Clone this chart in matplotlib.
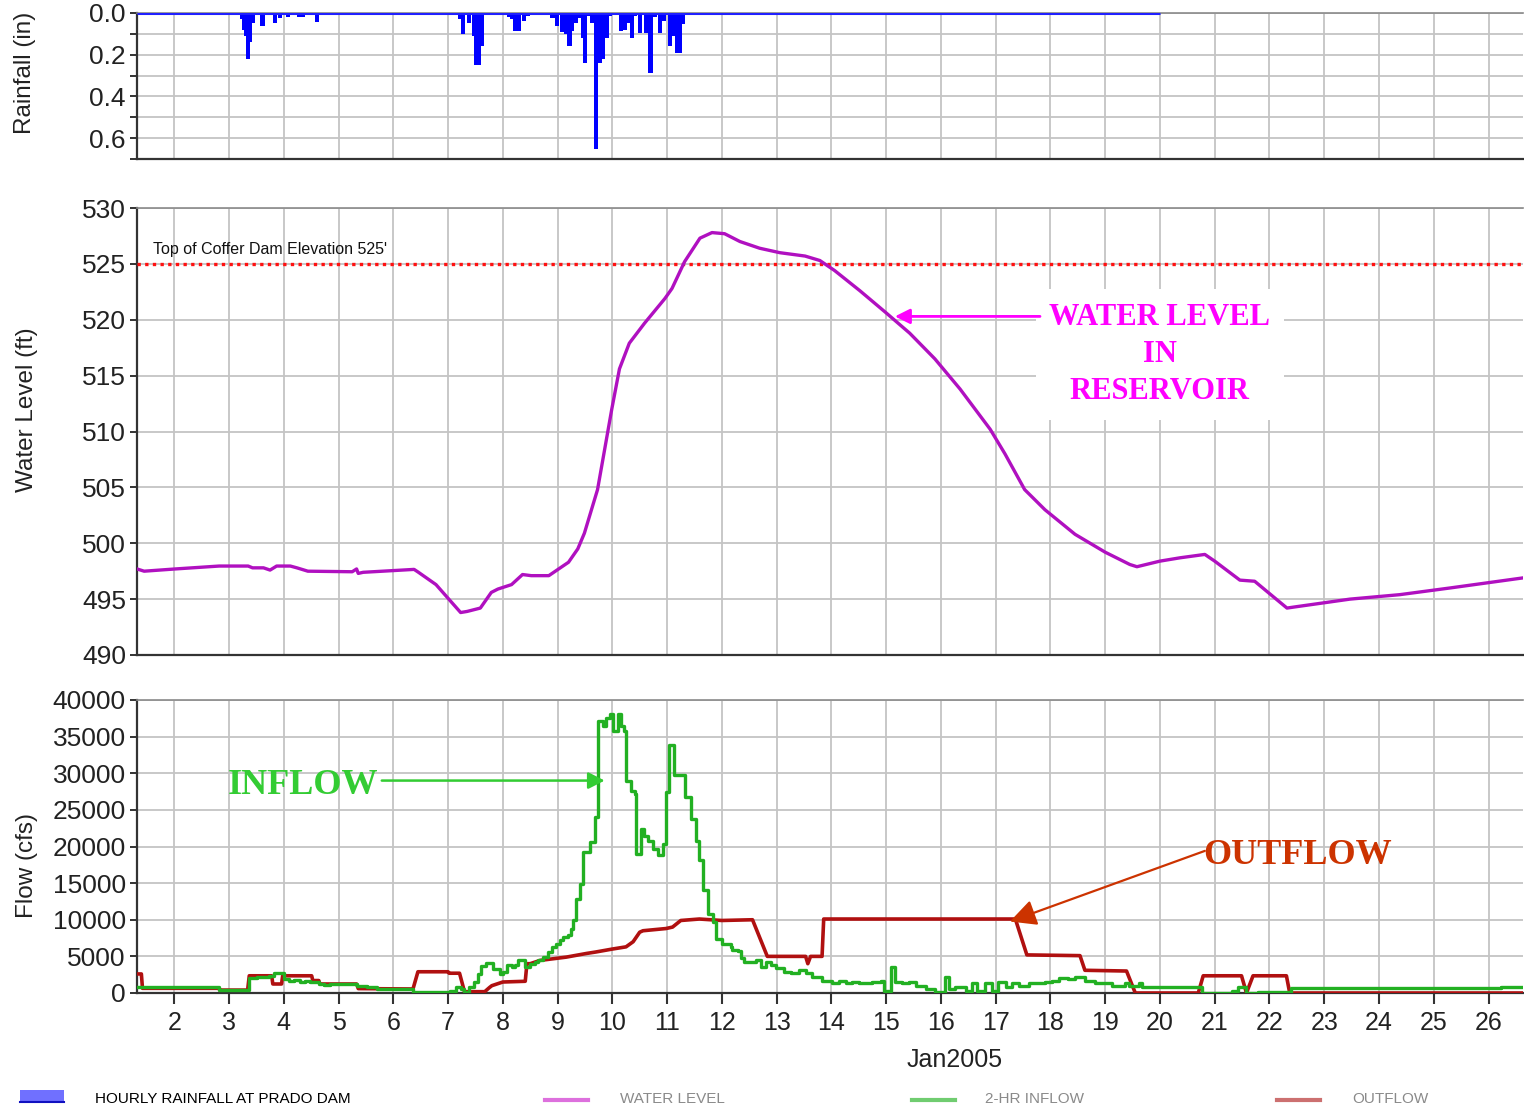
import matplotlib
matplotlib.use('Agg')
import matplotlib.pyplot as plt
from matplotlib.lines import Line2D
from matplotlib.patches import Rectangle
from matplotlib.ticker import MultipleLocator, FuncFormatter

# ---------------- data ----------------
x_start, x_end = 1.32, 26.63
day_ticks = list(range(2, 27))
month_label = "Jan2005"

rain_day = [2.65, 3.21, 3.24, 3.28, 3.31, 3.35, 3.40, 3.56, 3.59, 3.70, 3.80, 3.89,
            4.04, 4.25, 4.32, 4.57, 4.88, 4.99,
            7.18, 7.23, 7.34, 7.43, 7.47, 7.52, 7.58, 7.66, 7.74,
            8.07, 8.13, 8.18, 8.25, 8.35, 8.42, 8.79, 8.87, 8.95,
            9.05, 9.12, 9.18, 9.23, 9.29, 9.37, 9.43, 9.47, 9.52, 9.59, 9.67, 9.73,
            9.80, 9.86, 9.91, 10.12, 10.20, 10.27, 10.32, 10.38, 10.46, 10.57, 10.66,
            10.74, 10.83, 10.91, 11.01, 11.08, 11.14, 11.20, 11.26]
rain_in = [0.01, 0.03, 0.08, 0.11, 0.22, 0.14, 0.05, 0.06, 0.06, 0.01, 0.05, 0.025,
           0.02, 0.02, 0.02, 0.045, 0.01, 0.01,
           0.03, 0.10, 0.05, 0.11, 0.25, 0.25, 0.16, 0.01, 0.01,
           0.02, 0.03, 0.085, 0.085, 0.04, 0.015, 0.01, 0.025, 0.06,
           0.09, 0.10, 0.16, 0.085, 0.05, 0.025, 0.12, 0.24, 0.015, 0.05, 0.65, 0.24,
           0.22, 0.12, 0.015, 0.085, 0.08, 0.05, 0.12, 0.015, 0.095, 0.095, 0.29,
           0.02, 0.095, 0.04, 0.16, 0.11, 0.19, 0.19, 0.055]
rain_record_end = 20.0

wl_day = [1.32, 1.45, 2.02, 2.82, 3.35, 3.43, 3.63, 3.75, 3.87, 4.12, 4.24, 4.44,
          5.25, 5.33, 5.36, 5.45, 6.38, 6.46, 6.78, 7.23, 7.35, 7.59, 7.79, 7.91,
          8.16, 8.36, 8.52, 8.84, 9.20, 9.37, 9.49, 9.73, 9.86, 9.99, 10.13, 10.31,
          10.59, 10.96, 11.09, 11.32, 11.60, 11.82, 12.05, 12.33, 12.69, 13.06,
          13.52, 13.79, 14.06, 14.52, 14.98, 15.43, 15.89, 16.35, 16.90, 17.17,
          17.53, 17.90, 18.45, 19.00, 19.45, 19.58, 20.00, 20.37, 20.82, 21.00,
          21.46, 21.73, 22.00, 22.32, 22.46, 23.47, 24.38, 25.30, 26.63]
wl_ft = [497.7, 497.5, 497.7, 497.96, 497.96, 497.8, 497.8, 497.6, 497.96, 497.96,
         497.8, 497.5, 497.45, 497.7, 497.3, 497.4, 497.66, 497.4, 496.3, 493.8,
         493.9, 494.2, 495.6, 495.9, 496.3, 497.2, 497.1, 497.1, 498.3, 499.5,
         500.9, 504.8, 508.4, 512.0, 515.6, 517.9, 519.7, 521.9, 522.8, 525.2,
         527.3, 527.8, 527.7, 527.0, 526.4, 526.0, 525.7, 525.3, 524.4, 522.6,
         520.7, 518.8, 516.5, 513.8, 510.2, 508.0, 504.8, 503.0, 500.8, 499.2,
         498.1, 497.9, 498.4, 498.7, 499.0, 498.4, 496.7, 496.6, 495.5, 494.2,
         494.3, 495.0, 495.4, 496.0, 496.9]
coffer_elev = 525

in_day = [1.32, 2.82, 3.36, 3.52, 3.73, 3.82, 4.00, 4.09, 4.18, 4.30, 4.39, 4.48,
          4.64, 4.73, 4.85, 5.33, 5.52, 5.70, 6.36, 6.61, 7.03, 7.15, 7.24, 7.30,
          7.39, 7.48, 7.55, 7.61, 7.70, 7.82, 7.94, 8.01, 8.07, 8.16, 8.22, 8.28,
          8.41, 8.50, 8.59, 8.65, 8.74, 8.83, 8.89, 8.98, 9.04, 9.10, 9.19, 9.25,
          9.28, 9.33, 9.41, 9.47, 9.59, 9.68, 9.73, 9.83, 9.89, 9.95, 10.01, 10.10,
          10.15, 10.22, 10.25, 10.35, 10.41, 10.44, 10.53, 10.57, 10.65, 10.74,
          10.83, 10.92, 10.98, 11.04, 11.13, 11.32, 11.44, 11.53, 11.59, 11.65,
          11.74, 11.83, 11.89, 12.01, 12.16, 12.19, 12.29, 12.35, 12.41, 12.62,
          12.71, 12.80, 12.89, 12.98, 13.14, 13.26, 13.41, 13.53, 13.65, 13.83,
          14.02, 14.14, 14.26, 14.38, 14.50, 14.75, 14.90, 14.96, 15.08, 15.17,
          15.29, 15.41, 15.54, 15.72, 15.90, 16.08, 16.14, 16.26, 16.45, 16.57,
          16.66, 16.81, 16.93, 17.05, 17.18, 17.30, 17.42, 17.60, 17.91, 18.03,
          18.15, 18.33, 18.45, 18.63, 18.82, 19.12, 19.36, 19.43, 19.61, 19.67,
          20.76, 21.31, 21.43, 21.58, 21.79, 21.98, 22.40, 26.23, 26.63]
in_cfs = [770, 450, 2000, 2200, 2300, 2700, 1900, 1700, 1800, 1550, 1700, 1450,
          1230, 1100, 1230, 1000, 770, 550, 100, 180, 300, 770, 550, 180,
          770, 1450, 2600, 3700, 4100, 3300, 2600, 2900, 3800, 3500, 3800, 4450,
          3500, 4000, 4200, 4450, 4900, 5600, 6300, 6700, 7200, 7600, 7900, 8800,
          9900, 12900, 14900, 19200, 20600, 24000, 37200, 36500, 37600, 38100, 35800, 38100,
          36500, 35800, 29000, 27600, 27200, 19000, 22400, 21500, 20800, 19700,
          18800, 20400, 27400, 33800, 29700, 26700, 23800, 20800, 18100, 14000,
          10800, 9700, 7400, 6700, 6300, 5900, 5700, 4800, 4300, 4500,
          3600, 4300, 3800, 3400, 2900, 2700, 3100, 2700, 2200, 1700,
          1300, 1700, 1300, 1500, 1300, 1500, 1700, 330, 3600, 1500,
          1300, 1500, 1000, 550, 100, 2200, 550, 800, 330, 1300,
          330, 1300, 330, 1500, 800, 1300, 1000, 1300, 1500, 1700,
          2050, 1850, 2200, 1700, 1300, 1000, 1300, 1000, 1360, 860,
          50, 300, 770, 0, 180, 100, 640, 860, 860]

out_day = [1.32, 1.40, 1.42, 2.82, 2.83, 3.34, 3.37, 3.78, 3.80, 3.96, 3.98, 4.51,
           4.53, 4.64, 4.66, 5.33, 5.36, 6.36, 6.45, 7.00, 7.02, 7.21, 7.30, 7.67,
           7.76, 7.80, 8.00, 8.41, 8.44, 8.50, 8.68, 9.16, 9.53, 9.70, 10.00, 10.25,
           10.38, 10.50, 10.56, 10.98, 11.10, 11.25, 11.59, 12.00, 12.56, 12.83,
           13.53, 13.57, 13.62, 13.83, 13.86, 17.36, 17.57, 18.54, 18.63, 19.39,
           19.55, 20.70, 20.79, 21.49, 21.58, 21.70, 22.31, 22.37, 26.63]
out_cfs = [2600, 2600, 640, 640, 400, 400, 2350, 2350, 1230, 1230, 2350, 2350,
           1700, 1700, 1230, 1230, 600, 550, 2900, 2900, 2700, 2700, 180, 180,
           770, 1000, 1500, 1600, 4000, 4000, 4450, 4900, 5400, 5600, 6000, 6300,
           7000, 8300, 8500, 8800, 9000, 9900, 10100, 9900, 10000, 5000,
           5000, 4000, 5000, 5000, 10100, 10100, 5200, 5100, 3100, 3000,
           0, 0, 2350, 2350, 0, 2350, 2350, 0, 0]

# ---------------- styling ----------------
SANS = 'Liberation Sans'
SERIF = 'Liberation Serif'
plt.rcParams['font.family'] = [SANS, 'DejaVu Sans']

GRID = '#c4c4c4'
SPINE = '#333333'
TXT = '#222222'

fig = plt.figure(figsize=(15.24, 11.1), dpi=100)
L, W = 137 / 1524, (1523 - 137) / 1524
ax_r = fig.add_axes([L, 1 - 159 / 1110, W, (159 - 13) / 1110])
ax_w = fig.add_axes([L, 1 - 655 / 1110, W, (655 - 208) / 1110])
ax_f = fig.add_axes([L, 1 - 993 / 1110, W, (993 - 700) / 1110])


def style(ax, ystep, ylab_size=19):
    ax.set_xlim(x_start, x_end)
    ax.set_xticks(day_ticks)
    ax.yaxis.set_major_locator(MultipleLocator(ystep))
    ax.grid(True, color=GRID, lw=1.3, zorder=0)
    ax.set_axisbelow(True)
    for s in ['left', 'bottom']:
        ax.spines[s].set_color(SPINE)
        ax.spines[s].set_linewidth(1.6)
    ax.spines['top'].set_color('#8a8a8a')
    ax.spines['top'].set_linewidth(1.2)
    ax.spines['right'].set_visible(False)
    ax.tick_params(axis='y', direction='out', length=5, width=1.4, color=SPINE,
                   labelsize=ylab_size, labelcolor=TXT, pad=3)


# Rainfall panel
style(ax_r, 0.1)
ax_r.set_ylim(0.7, 0)
ax_r.yaxis.set_major_formatter(FuncFormatter(
    lambda v, p: f"{v:.1f}" if round(v * 10) % 2 == 0 and v < 0.65 else ""))
ax_r.tick_params(axis='x', length=0, labelbottom=False)
ax_r.bar(rain_day, rain_in, width=0.075, align='edge', color='#0000ff', lw=0, zorder=3)
ax_r.hlines(0, x_start, rain_record_end, color='#2020ff', lw=2.2, zorder=4)

# Water level panel
style(ax_w, 5)
ax_w.set_ylim(490, 530)
ax_w.tick_params(axis='x', length=0, labelbottom=False)
ax_w.plot(wl_day, wl_ft, color='#b010c0', lw=2.4, zorder=4, solid_joinstyle='round')
ax_w.axhline(coffer_elev, color='#ff1010', lw=2.4, ls=(0, (1, 1.3)), zorder=3)
ax_w.text(1.62, coffer_elev + 0.6, "Top of Coffer Dam Elevation 525'", fontsize=11.5,
          color='#111111', va='bottom', ha='left', zorder=5)
ax_w.text(20.0, 516.9, "WATER LEVEL\nIN\nRESERVOIR", family=SERIF, fontweight='bold',
          fontsize=22, color='#ff00ff', ha='center', va='center', multialignment='center',
          linespacing=1.36, zorder=6,
          bbox=dict(boxstyle='square,pad=0.45', facecolor='white', edgecolor='none'))
ax_w.annotate('', xy=(15.16, 520.3), xytext=(17.81, 520.3),
              arrowprops=dict(arrowstyle='-|>,head_length=0.5,head_width=0.25',
                              color='#ff00ff', lw=2, mutation_scale=18,
                              shrinkA=0, shrinkB=0), zorder=7)

# Flow panel
style(ax_f, 5000)
ax_f.set_ylim(0, 40000)
ax_f.tick_params(axis='x', direction='out', length=8, width=1.5, color=SPINE,
                 labelsize=18, labelcolor=TXT, pad=5)
ax_f.plot(in_day, in_cfs, drawstyle='steps-post', color='#22b022', lw=2.4, zorder=4)
ax_f.plot(out_day, out_cfs, color='#b01010', lw=2.6, zorder=3)
ax_f.text(4.35, 28300, "INFLOW", family=SERIF, fontweight='bold', fontsize=26,
          color='#33cc33', ha='center', va='center', zorder=6)
ax_f.annotate('', xy=(9.86, 29000), xytext=(5.79, 29000),
              arrowprops=dict(arrowstyle='-|>,head_length=0.55,head_width=0.28',
                              color='#33cc33', lw=1.8, mutation_scale=18,
                              shrinkA=0, shrinkB=0), zorder=7)
ax_f.text(22.52, 18800, "OUTFLOW", family=SERIF, fontweight='bold', fontsize=26,
          color='#cc3300', ha='center', va='center', zorder=6)
ax_f.annotate('', xy=(17.26, 9760), xytext=(20.82, 19400),
              arrowprops=dict(arrowstyle='-|>,head_length=0.8,head_width=0.4',
                              color='#cc3300', lw=1.6, mutation_scale=20,
                              shrinkA=0, shrinkB=0), zorder=7)

# Axis labels
fig.text(25 / 1524, 1 - 73 / 1110, "Rainfall (in)", rotation=90, ha='center',
         va='center', fontsize=17.5, color=TXT)
fig.text(27 / 1524, 1 - 410 / 1110, "Water Level (ft)", rotation=90, ha='center',
         va='center', fontsize=17.5, color=TXT)
fig.text(27 / 1524, 1 - 865 / 1110, "Flow (cfs)", rotation=90, ha='center',
         va='center', fontsize=17.5, color=TXT)
fig.text(955 / 1524, 1 - 1060 / 1110, month_label, ha='center', va='center',
         fontsize=18, color=TXT)

# Legend (bottom strip)
ly = 1 - 1099 / 1110
fig.add_artist(Rectangle((20 / 1524, 1 - 1103 / 1110), 44 / 1524, 13 / 1110,
                         facecolor='#7070ff', edgecolor='none', transform=fig.transFigure))
fig.add_artist(Line2D([20 / 1524, 64 / 1524], [1 - 1102 / 1110] * 2, color='#1010c0',
                      lw=1.5, transform=fig.transFigure))
fig.text(95 / 1524, ly, "HOURLY RAINFALL AT PRADO DAM", fontsize=11, color='#000000',
         va='center', ha='left')
legend_items = [(545, 588, 620, '#dd70dd', "WATER LEVEL"),
                (912, 955, 985, '#70cc70', "2-HR INFLOW"),
                (1277, 1320, 1352, '#cc7070', "OUTFLOW")]
for x0, x1, xt, col, lab in legend_items:
    fig.add_artist(Line2D([x0 / 1524, x1 / 1524], [1 - 1100 / 1110] * 2, color=col,
                          lw=3, transform=fig.transFigure))
    fig.text(xt / 1524, ly, lab, fontsize=11, color='#8a8a8a', va='center', ha='left')

fig.savefig('out.png', dpi=100)
